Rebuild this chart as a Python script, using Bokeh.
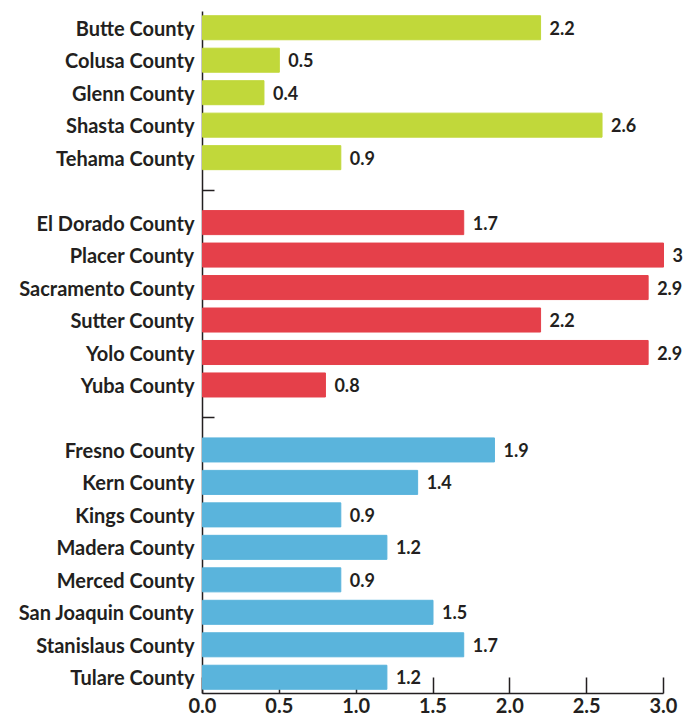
from bokeh.plotting import figure
from bokeh.models import ColumnDataSource, Range1d, FixedTicker, PrintfTickFormatter
from bokeh.core.properties import value
from bokeh.embed import file_html
from bokeh.resources import INLINE

group1 = ["Butte County", "Colusa County", "Glenn County", "Shasta County", "Tehama County"]
values1 = [2.2, 0.5, 0.4, 2.6, 0.9]
group2 = ["El Dorado County", "Placer County", "Sacramento County", "Sutter County", "Yolo County", "Yuba County"]
values2 = [1.7, 3, 2.9, 2.2, 2.9, 0.8]
group3 = ["Fresno County", "Kern County", "Kings County", "Madera County", "Merced County",
          "San Joaquin County", "Stanislaus County", "Tulare County"]
values3 = [1.9, 1.4, 0.9, 1.2, 0.9, 1.5, 1.7, 1.2]
colors = ["#c1d83a", "#e5404a", "#5ab4dc"]
x_ticks = [0.0, 0.5, 1.0, 1.5, 2.0, 2.5, 3.0]

names, vals, cols, pos, gaps = [], [], [], [], []
i = 0
for gi, (g, v) in enumerate([(group1, values1), (group2, values2), (group3, values3)]):
    if gi > 0:
        gaps.append(i)
        i += 1
    for n, val in zip(g, v):
        names.append(n)
        vals.append(val)
        cols.append(colors[gi])
        pos.append(i)
        i += 1
n_slots = i

labels = [("3" if v == 3 else f"{v:g}") for v in vals]
src = ColumnDataSource(dict(y=pos, v=vals, c=cols, lab=labels))

FONT = "Lato"
TXT = "#231f20"
W, H = 693, 721
LEFT = 202
X_END = 3 * (W - LEFT) / 461

p = figure(width=W, height=H, output_backend="svg", toolbar_location=None,
           x_range=Range1d(0, X_END), y_range=Range1d(n_slots - 0.5, -0.5),
           min_border_left=LEFT, min_border_right=0, min_border_top=11, min_border_bottom=28)
p.outline_line_color = None
p.xgrid.visible = False
p.ygrid.visible = False

bars = p.hbar(y="y", right="v", left=0, height=0.74, color="c", source=src)
bars.level = "overlay"
p.text(x="v", y="y", text="lab", source=src, x_offset=9, text_baseline="middle",
       text_font=value(FONT), text_font_style="bold", text_font_size="18px", text_color=TXT)

xa = p.xaxis[0]
xa.ticker = FixedTicker(ticks=x_ticks)
xa.bounds = (0, 3)
xa.formatter = PrintfTickFormatter(format="%.1f")
xa.major_tick_in = 16
xa.major_tick_out = 0
xa.minor_tick_line_color = None
xa.axis_line_color = TXT
xa.major_tick_line_color = TXT
xa.axis_line_width = 1.5
xa.major_tick_line_width = 1.5
xa.major_label_text_font = FONT
xa.major_label_text_font_style = "bold"
xa.major_label_text_font_size = "20px"
xa.major_label_text_color = TXT
xa.major_label_standoff = 4

ya = p.yaxis[0]
ya.ticker = FixedTicker(ticks=pos, minor_ticks=gaps)
ya.major_label_overrides = {p_: n for p_, n in zip(pos, names)}
ya.major_tick_in = 0
ya.major_tick_out = 0
ya.minor_tick_in = 12
ya.minor_tick_out = 0
ya.minor_tick_line_color = TXT
ya.minor_tick_line_width = 1.5
ya.axis_line_color = TXT
ya.axis_line_width = 1.5
ya.major_label_text_font = FONT
ya.major_label_text_font_style = "bold"
ya.major_label_text_font_size = "20px"
ya.major_label_text_color = TXT
ya.major_label_standoff = 8

open("out.html", "w").write(file_html(p, INLINE))
